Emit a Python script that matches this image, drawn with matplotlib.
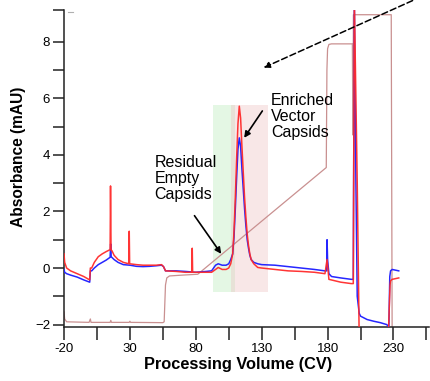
import numpy as np
import matplotlib.pyplot as plt
from matplotlib.ticker import MultipleLocator, FixedLocator

plt.rcParams['font.family'] = ['Liberation Sans', 'DejaVu Sans']

# UV traces (CV, mAU)
blue_x = [-20, -19.5, -18, -15, -10, -5, -0.5, 0, 1, 3, 6, 9, 12, 15, 15.4, 15.8, 18, 21, 25, 30,
          35, 40, 45, 50, 54, 55.5, 57, 60, 65, 72, 80, 88, 92, 95, 97, 100, 103, 105, 106.5,
          108, 109, 110, 111, 112, 113, 114, 115, 116, 117, 118, 119, 120, 121, 122, 124, 127,
          130, 140, 150, 160, 170, 178, 179.3, 179.6, 180, 181, 183, 190, 198, 199.5, 200.3,
          201.5, 202.5, 204, 205, 210, 215, 220, 225, 226.5, 227.2, 227.8, 229, 234]
blue_y = [-0.05, -0.15, -0.2, -0.25, -0.32, -0.42, -0.5, -0.1, -0.1, 0.0, 0.12, 0.2, 0.28, 0.38, 0.85,
          0.4, 0.3, 0.2, 0.12, 0.1, 0.06, 0.05, 0.06, 0.08, 0.1, 0.05, -0.1, -0.1, -0.1, -0.12,
          -0.15, -0.12, -0.1, 0.1, 0.15, 0.1, 0.1, 0.15, 0.3, 0.5, 1.1, 2.1, 3.2, 4.2, 4.6, 4.3,
          3.5, 2.8, 2.1, 1.5, 1.0, 0.7, 0.45, 0.3, 0.2, 0.15, 0.12, 0.1, 0.05, 0.0, -0.05,
          -0.1, -0.1, 1.0, 0.3, -0.2, -0.3, -0.35, -0.4, -0.4, 9.5, 3.0, -1.0, -1.6, -1.7,
          -1.82, -1.88, -1.93, -2.0, -2.1, -0.3, -0.1, -0.05, -0.1]

red_x = [-20, -19.5, -18, -15, -10, -5, -0.5, 0, 1, 3, 6, 9, 12, 15, 15.3, 15.7, 16.5, 18, 21, 25,
         29.2, 29.5, 29.8, 35, 40, 45, 50, 54, 55.5, 57, 65, 72, 77, 77.3, 77.6, 80, 88, 92, 95,
         97, 100, 103, 105, 106.5, 108, 109, 110, 111, 112, 113, 114, 115, 116, 117, 118, 119,
         120, 121, 122, 124, 127, 130, 140, 150, 160, 170, 178, 179.6, 181, 190, 198, 199.5,
         200.3, 202.5, 204, 226, 227.4, 227.8, 229, 234]
red_y = [0.5, 0.2, 0.0, -0.1, -0.2, -0.3, -0.42, 0.0, 0.0, 0.2, 0.4, 0.5, 0.58, 0.65, 2.9, 0.65,
         0.6, 0.45, 0.3, 0.2, 0.15, 1.3, 0.15, 0.12, 0.1, 0.1, 0.1, 0.12, 0.05, -0.1, -0.12,
         -0.15, -0.15, 0.7, -0.15, -0.15, -0.15, -0.15, -0.05, 0.02, -0.05, -0.05, 0.0, 0.15,
         0.5, 1.3, 2.5, 3.9, 5.1, 5.72, 5.3, 4.3, 3.4, 2.5, 1.8, 1.2, 0.8, 0.5, 0.3, 0.15, 0.02,
         0.0, -0.05, -0.1, -0.12, -0.15, -0.2, 0.3, -0.4, -0.5, -0.55, -0.55, 9.5, 3.0, -2.5,
         -2.5, -0.6, -0.45, -0.4, -0.35]

# conductivity / gradient trace
cond_x = [-20, -19.5, -18, -1, 0, 0.5, 15, 15.5, 16, 29.5, 30, 30.5, 55, 56, 57, 58, 60, 70, 81.5,
          179, 179.5, 180, 181, 183, 198.8, 199.2, 199.6, 228.3, 229]
cond_y = [-1.55, -1.8, -1.9, -1.92, -1.8, -1.92, -1.92, -1.85, -1.92, -1.92, -1.88, -1.92, -1.93,
          -1.9, -0.6, -0.35, -0.28, -0.25, -0.22, 3.55, 7.0, 7.75, 7.9, 7.92, 7.92, 4.7, 8.95,
          8.95, -2.5]

# fraction windows (CV range, absorbance range)
empty_win = (93.0, 109.5)
full_win = (106.5, 135.0)
win_y = (-0.85, 5.75)

fig = plt.figure(figsize=(4.31, 3.81), dpi=100)
ax = fig.add_axes([0.1485, 0.142, 0.847, 0.832])

ax.fill_between(empty_win, win_y[0], win_y[1], color='#c4eec4', alpha=0.45, lw=0, zorder=0)
ax.fill_between(full_win, win_y[0], win_y[1], color='#eec4c4', alpha=0.4, lw=0, zorder=0)

ax.plot(cond_x, cond_y, color='#c99090', lw=0.9, zorder=2)
ax.plot(blue_x, blue_y, color='#2626ff', lw=1.1, zorder=3)
ax.plot(red_x, red_y, color='#ff2a2a', lw=1.1, zorder=3, alpha=0.95)
ax.plot([-16.6, -12.8], [9.05, 9.05], color='#b0b0b0', lw=0.8)

ax.set_xlim(-20, 257)
ax.set_ylim(-2.08, 9.12)

ax.xaxis.set_major_locator(FixedLocator([-20, 30, 80, 130, 180, 230]))
ax.xaxis.set_minor_locator(FixedLocator([5, 55, 105, 155, 205, 255]))
ax.set_xticklabels(['-20', '30', '80', '130', '180', '230'])
ax.yaxis.set_major_locator(MultipleLocator(2))
ax.yaxis.set_minor_locator(FixedLocator([-1, 1, 3, 5, 7, 9.12]))

for s in ['top', 'right']:
    ax.spines[s].set_visible(False)
for s in ['left', 'bottom']:
    ax.spines[s].set_linewidth(1.1)
    ax.spines[s].set_color('#222222')
ax.tick_params(axis='x', which='both', direction='out', length=9.5, width=1.1, labelsize=9.5,
               color='#222222', pad=2)
ax.tick_params(axis='y', which='both', direction='out', length=8, width=1.1, labelsize=9.5,
               color='#222222', pad=2)

ax.set_xlabel('Processing Volume (CV)', fontsize=11.8, fontweight='bold')
ax.set_ylabel('Absorbance (mAU)', fontsize=11.2, fontweight='bold')
ax.xaxis.set_label_coords(0.478, -0.095)
ax.yaxis.set_label_coords(-0.103, 0.535)

ax.text(48.5, 4.0, 'Residual\nEmpty\nCapsids', fontsize=11.5, va='top', ha='left',
        linespacing=1.1)
ax.text(137, 6.2, 'Enriched\nVector\nCapsids', fontsize=11.5, va='top', ha='left',
        linespacing=1.1)

ax.annotate('', xy=(99.3, 0.5), xytext=(79, 1.85),
            arrowprops=dict(arrowstyle='-|>', color='black', lw=1.2, mutation_scale=9,
                            shrinkA=0, shrinkB=0))
ax.annotate('', xy=(116.7, 4.6), xytext=(130.5, 5.55),
            arrowprops=dict(arrowstyle='-|>', color='black', lw=1.2, mutation_scale=9,
                            shrinkA=0, shrinkB=0))
ax.annotate('', xy=(131.5, 7.08), xytext=(244.5, 9.45), annotation_clip=False,
            arrowprops=dict(arrowstyle='-|>', color='black', lw=1.1, ls=(0, (4, 2)),
                            mutation_scale=9, shrinkA=0, shrinkB=0))

fig.savefig('out.png', dpi=100)
